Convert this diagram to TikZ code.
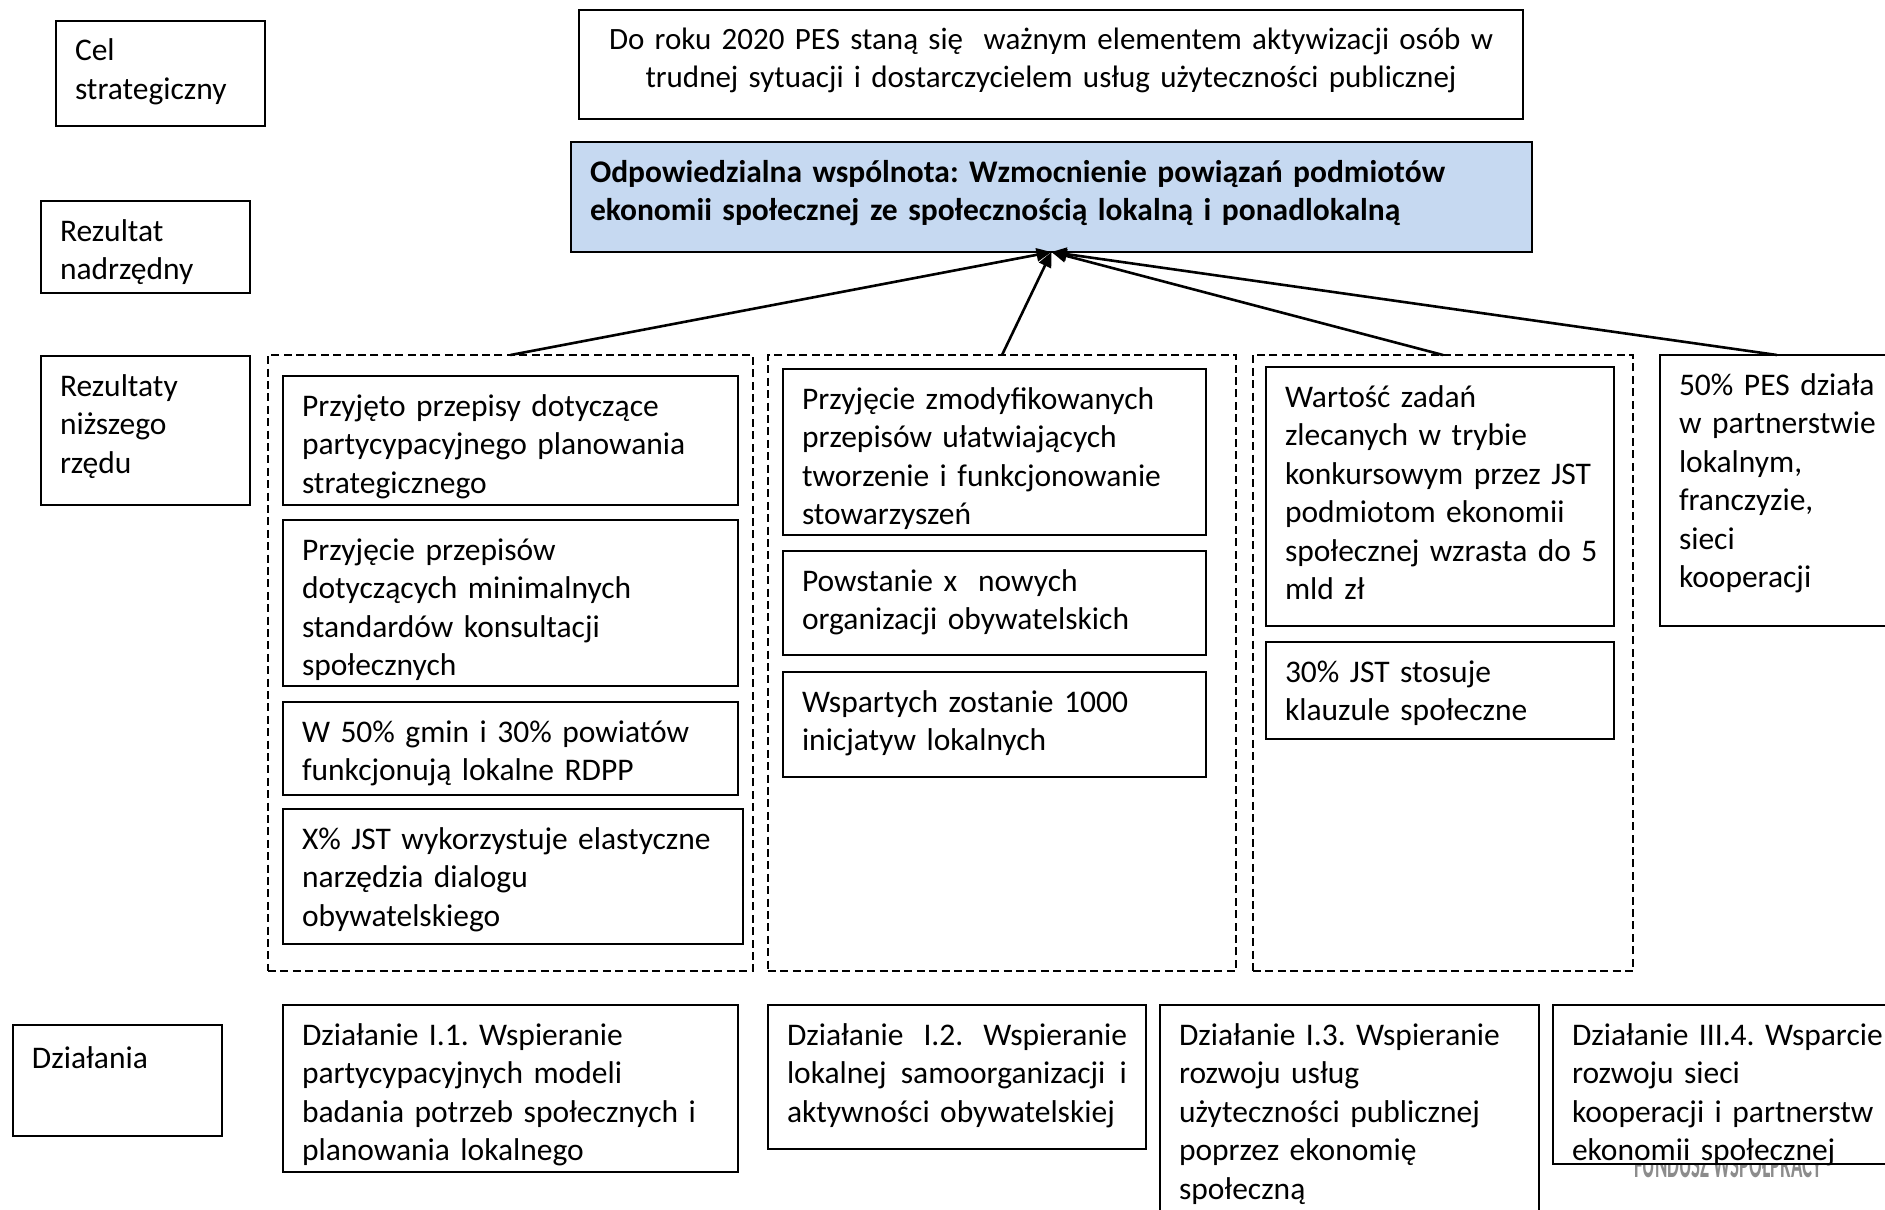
\documentclass[tikz,border=0pt]{standalone}
\usepackage{fontspec}
\setmainfont{Carlito}
\usetikzlibrary{arrows.meta}
\hyphenpenalty=10000
\exhyphenpenalty=10000

\begin{document}
\begin{tikzpicture}[x=0.5pt, y=-0.5pt,
    box/.style={draw, line width=1pt, anchor=north west, outer sep=0pt, inner xsep=9.5pt, inner ysep=0pt,
      text height=20pt, align=left, font=\fontsize{15.75pt}{19.25pt}\selectfont\frenchspacing,
      execute at begin node={\rightskip=0pt plus 1fil minus 30pt\relax}},
    grp/.style={draw, line width=0.8pt, dash pattern=on 4pt off 2.2pt, anchor=north west, outer sep=0pt,
      inner sep=0pt, minimum height=308pt},
    arr/.style={line width=1.3pt, -{Triangle[length=7.5pt,width=6.5pt]}}]
  \useasboundingbox (0,0) rectangle (1885,1210);

  % labels on the left
  \node[box, text width=85.5pt, text depth=32.5pt] (cel) at (56,21) {Cel\\strategiczny};
  \node[box, text width=85.5pt, text depth=26pt] (nadrz) at (41,201) {Rezultat\\nadrzędny};
  \node[box, text width=85.5pt, text depth=54.5pt] (nizsz) at (41,356) {Rezultaty\\niższego\\rzędu};
  \node[box, text width=85.5pt, text height=21.5pt, text depth=34pt] (dzial) at (13,1025) {Działania};

  % goal and main result
  \node[box, execute at begin node={\centering}, font=\fontsize{15.5pt}{19.25pt}\selectfont\frenchspacing,
    text width=453pt, text height=19.5pt, text depth=35pt] (goal) at (579,10)
    {Do roku 2020 PES staną się\ \ ważnym elementem aktywizacji osób w\\trudnej sytuacji i dostarczycielem usług użyteczności publicznej};
  \node[box, fill={rgb,255:red,198;green,217;blue,241}, text width=461.5pt, text height=20.2pt, text depth=34.8pt] (blue) at (571,142)
    {\textbf{Odpowiedzialna wspólnota: Wzmocnienie powiązań podmiotów}\\\textbf{ekonomii społecznej ze społecznością lokalną i ponadlokalną}};

  % groups of lower results
  \node[grp, minimum width=242.5pt] (grp1) at (268,355) {};
  \node[grp, minimum width=234pt] (grp2) at (768,355) {};
  \node[grp, minimum width=190pt] (grp3) at (1253,355) {};

  \node[box, text width=208.5pt, text depth=44.5pt] (r1a) at (283,376)
    {Przyjęto przepisy dotyczące\\partycypacyjnego planowania\\strategicznego};
  \node[box, text width=208.5pt, text depth=63pt] (r1b) at (283,520)
    {Przyjęcie przepisów\\dotyczących minimalnych\\standardów konsultacji\\społecznych};
  \node[box, text width=208.5pt, text depth=26.5pt] (r1c) at (283,702)
    {W 50\% gmin i 30\% powiatów\\funkcjonują lokalne RDPP};
  \node[box, text width=211pt, text depth=47.5pt] (r1d) at (283,809)
    {X\% JST wykorzystuje elastyczne\\narzędzia dialogu\\obywatelskiego};

  \node[box, text width=192.5pt, text depth=63pt] (r2a) at (783,369)
    {Przyjęcie zmodyfikowanych\\przepisów ułatwiających\\tworzenie i funkcjonowanie\\stowarzyszeń};
  \node[box, text width=192.5pt, text depth=32pt] (r2b) at (783,551)
    {Powstanie x\ \ nowych\\organizacji obywatelskich};
  \node[box, text width=192.5pt, text depth=32.5pt] (r2c) at (783,672)
    {Wspartych zostanie 1000\\inicjatyw lokalnych};

  \node[box, text width=155pt, text depth=109.5pt] (r3a) at (1266,367)
    {Wartość zadań\\zlecanych w trybie\\konkursowym przez JST\\podmiotom ekonomii\\społecznej wzrasta do 5\\mld zł};
  \node[box, text width=155pt, text depth=28.5pt] (r3b) at (1266,642)
    {30\% JST stosuje\\klauzule społeczne};

  \node[box, text width=98pt, text depth=115.5pt] (pes) at (1660,355)
    {50\% PES działa\\w partnerstwie\\lokalnym,\\franczyzie,\\sieci\\kooperacji};

  % actions
  \node[box, text width=208.5pt, text depth=63.5pt] (d1) at (283,1005)
    {Działanie I.1. Wspieranie\\partycypacyjnych modeli\\badania potrzeb społecznych i\\planowania lokalnego};
  \node[box, text width=170pt, text depth=52pt] (d2) at (768,1005)
    {Działanie \hfill I.2. \hfill Wspieranie\\lokalnej \hfill samoorganizacji \hfill i\\aktywności obywatelskiej};
  \node[box, text width=170.5pt, text depth=95pt] (d3) at (1160,1005)
    {Działanie I.3. Wspieranie\\rozwoju usług\\użyteczności publicznej\\poprzez ekonomię\\społeczną};
  \node[text=black!45, font=\bfseries\fontsize{20pt}{20pt}\selectfont, xscale=0.47, transform shape, anchor=base, inner sep=0pt]
    (fund) at (1728,1177) {FUNDUSZ WSPÓŁPRACY};
  \node[box, fill=white, text width=154.5pt, text depth=59.5pt] (d4) at (1553,1005)
    {Działanie III.4. Wsparcie\\rozwoju sieci\\kooperacji i partnerstw\\ekonomii społecznej};

  % links to the main result
  \draw[arr] (grp1.north) -- (blue.south);
  \draw[arr] (grp2.north) -- (blue.south);
  \draw[arr] (grp3.north) -- (blue.south);
  \draw[arr] (pes.north) -- (blue.south);
\end{tikzpicture}
\end{document}
